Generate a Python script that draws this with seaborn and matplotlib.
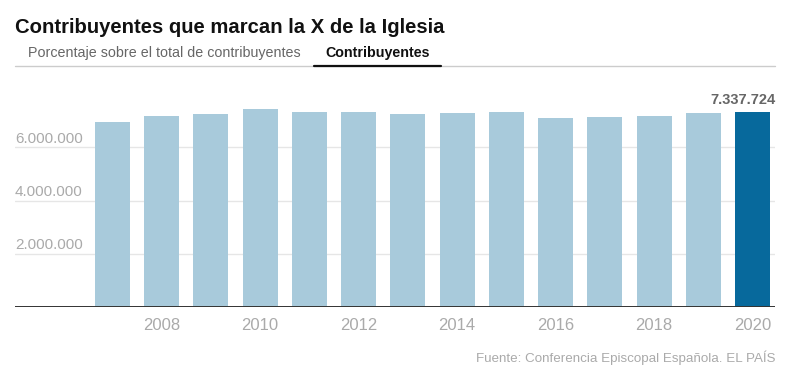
import matplotlib
matplotlib.use("Agg")
import matplotlib.pyplot as plt
import matplotlib.transforms as mtransforms
from matplotlib.lines import Line2D
import pandas as pd
import seaborn as sns

# Data
years = [str(y) for y in range(2007, 2021)]
contribuyentes = [6964000, 7188000, 7263000, 7450000, 7338000, 7338000, 7263000,
                  7300000, 7338000, 7114000, 7151000, 7188000, 7300000, 7337724]
ytick_values = [2000000, 4000000, 6000000]
ytick_labels = ["2.000.000", "4.000.000", "6.000.000"]
xtick_labels = ["2008", "2010", "2012", "2014", "2016", "2018", "2020"]

light = "#a8cadb"
dark = "#07699c"
colors = [light] * (len(years) - 1) + [dark]

df = pd.DataFrame({"year": years, "value": contribuyentes})

sns.set_style("white")
plt.rcParams["font.family"] = ["Liberation Sans", "DejaVu Sans"]

W, H = 785, 380
fig = plt.figure(figsize=(W / 100, H / 100), dpi=100)
ax = fig.add_axes([15 / W, 1 - 307.3 / H, (775 - 15) / W, (307.3 - 90) / H])

sns.barplot(data=df, x="year", y="value", hue="year", palette=colors,
            width=0.71, legend=False, saturation=1, linewidth=0, ax=ax)

ax.set_xlim(-1.98, 13.457)
ax.set_ylim(0, 8148000)

# gridlines and baseline
for v in ytick_values:
    ax.axhline(v, color="#e6e6e6", lw=1, zorder=0)
ax.axhline(0, color="#333333", lw=1.4, zorder=3)
for s in ax.spines.values():
    s.set_visible(False)

ax.set_yticks([])
ax.set_xlabel("")
ax.set_ylabel("")

# y labels left-aligned above gridlines
trans = mtransforms.blended_transform_factory(ax.transAxes, ax.transData)
for v, lab in zip(ytick_values, ytick_labels):
    ax.text(0, v + 60000, lab, transform=trans, ha="left", va="bottom",
            fontsize=11, color="#aaaaaa")

# x tick labels
ax.set_xticks([years.index(t) for t in xtick_labels])
ax.set_xticklabels(xtick_labels, fontsize=12, color="#aaaaaa")
ax.tick_params(axis="x", length=0, pad=8)

# value label on last bar
ax.text(len(years) - 1 + 0.475, contribuyentes[-1] + 180000, "7.337.724",
        ha="right", va="bottom", fontsize=10.5, fontweight="bold", color="#666666")

# title and tabs
fig.text(15 / W, 1 - 33 / H, "Contribuyentes que marcan la X de la Iglesia",
         fontsize=14.6, fontweight="bold", color="#111111", ha="left", va="baseline")
fig.text(28 / W, 1 - 57 / H, "Porcentaje sobre el total de contribuyentes",
         fontsize=10.3, color="#666666", ha="left", va="baseline")
fig.text(325 / W, 1 - 57 / H, "Contribuyentes",
         fontsize=10.3, fontweight="bold", color="#111111", ha="left", va="baseline")
fig.add_artist(Line2D([15 / W, 775 / W], [1 - 66 / H] * 2, color="#cccccc", lw=1))
fig.add_artist(Line2D([314 / W, 441 / W], [1 - 65.5 / H] * 2, color="#111111", lw=1.6))

# source
fig.text(775 / W, 1 - 362 / H, "Fuente: Conferencia Episcopal Española. EL PAÍS",
         fontsize=9.6, color="#aaaaaa", ha="right", va="baseline")

fig.savefig("out.png", dpi=100)
